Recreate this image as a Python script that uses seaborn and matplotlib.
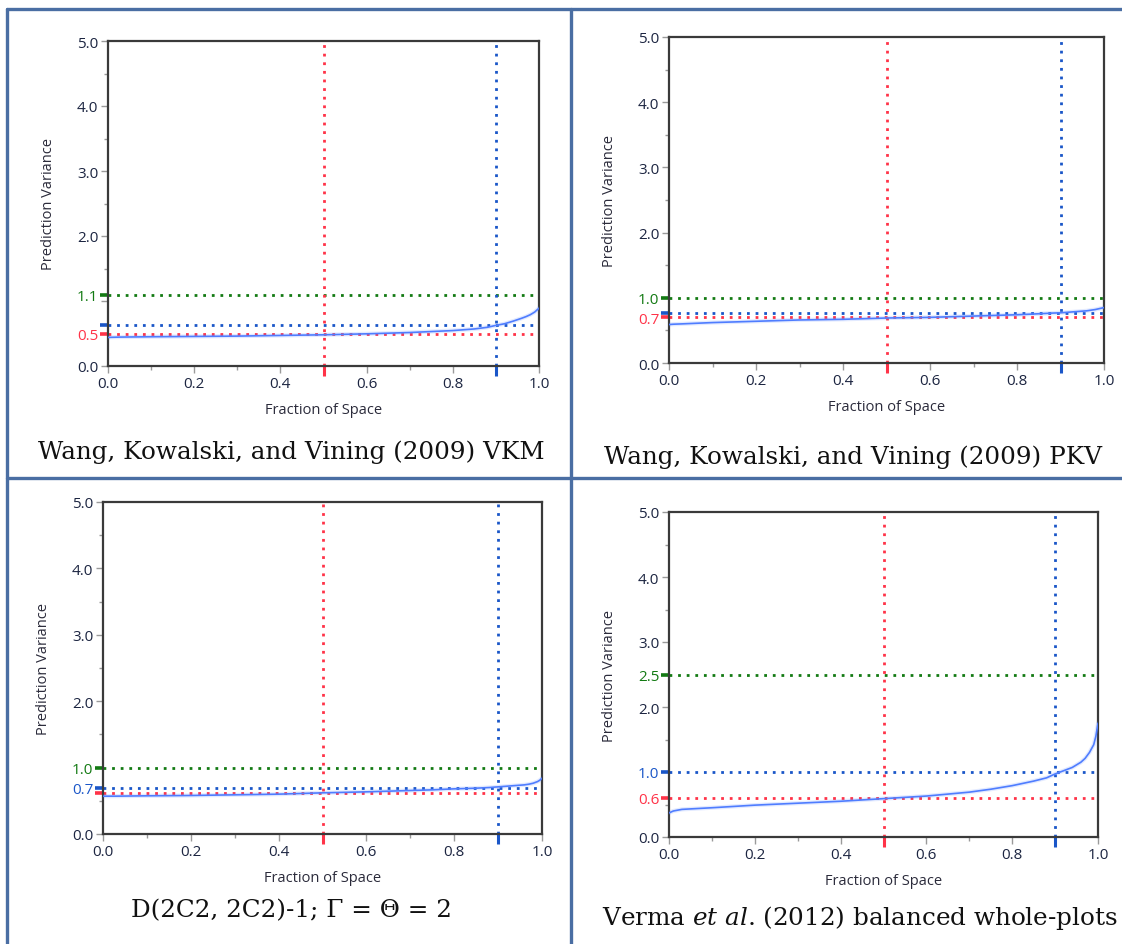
import matplotlib
matplotlib.use("Agg")
import matplotlib.pyplot as plt
from matplotlib.lines import Line2D
import pandas as pd
import seaborn as sns

sns.set_theme(style="white")
plt.rcParams["font.family"] = ["Open Sans", "DejaVu Sans"]
plt.rcParams["mathtext.fontset"] = "dejavuserif"

# Fraction of design space sampled for each FDS curve
fds_x = [0.0, 0.01, 0.03, 0.1, 0.2, 0.3, 0.4, 0.5, 0.6, 0.7, 0.75, 0.8,
         0.85, 0.88, 0.9, 0.92, 0.94, 0.96, 0.97, 0.98, 0.99, 0.995, 1.0]

# Scaled prediction variance along each FDS curve
vkm_pv = [0.44, 0.442, 0.445, 0.45, 0.455, 0.46, 0.47, 0.48, 0.495, 0.515,
          0.53, 0.545, 0.57, 0.595, 0.625, 0.65, 0.69, 0.735, 0.76, 0.79,
          0.83, 0.86, 0.89]
pkv_pv = [0.59, 0.595, 0.60, 0.62, 0.64, 0.66, 0.67, 0.69, 0.70, 0.72,
          0.73, 0.74, 0.755, 0.765, 0.77, 0.78, 0.79, 0.80, 0.81, 0.82,
          0.835, 0.842, 0.85]
d2c2_pv = [0.57, 0.57, 0.57, 0.575, 0.58, 0.59, 0.60, 0.62, 0.635, 0.655,
           0.665, 0.68, 0.69, 0.70, 0.71, 0.72, 0.73, 0.74, 0.75, 0.765,
           0.79, 0.81, 0.84]
verma_pv = [0.37, 0.40, 0.425, 0.45, 0.49, 0.52, 0.55, 0.59, 0.63, 0.69,
            0.735, 0.79, 0.86, 0.91, 0.97, 1.02, 1.07, 1.15, 1.21, 1.30,
            1.42, 1.55, 1.75]

captions = [
    "Wang, Kowalski, and Vining (2009) VKM",
    "Wang, Kowalski, and Vining (2009) PKV",
    "D(2C2, 2C2)-1; \u0393 = \u0398 = 2",
    r"Verma $\mathit{et\ al}$. (2012) balanced whole-plots",
]

# Reference levels: median PV (red), 90th percentile PV (blue), bound (green)
median_pv = [0.5, 0.7, 0.62, 0.6]
p90_pv = [0.63, 0.77, 0.7, 1.0]
bound_pv = [1.1, 1.0, 1.0, 2.5]
# Which reference levels carry a tick label
median_lab = ["0.5", "0.7", "", "0.6"]
p90_lab = ["", "", "0.7", "1.0"]
bound_lab = ["1.1", "1.0", "1.0", "2.5"]

median_frac = 0.5
p90_frac = 0.9

x_major = [0.0, 0.2, 0.4, 0.6, 0.8, 1.0]
y_major = [0.0, 1.0, 2.0, 3.0, 4.0, 5.0]

RED = "#ff3348"
BLUE = "#1a56c8"
GREEN = "#137a13"
CURVE = "#4f7dff"
TICKTXT = "#1c2541"

W, H = 1122, 945
fig = plt.figure(figsize=(W / 100, H / 100), dpi=100)

# axes boxes in pixels: left, top, right, bottom
boxes = [(108, 42, 539, 367), (669, 38, 1104, 364),
         (103, 503, 542, 835), (669, 513, 1098, 838)]
caption_pos = [(291, 452), (853, 457), (291, 911), (860, 918)]
curves = [vkm_pv, pkv_pv, d2c2_pv, verma_pv]

for i in range(4):
    l, t, r, b = boxes[i]
    ax = fig.add_axes([l / W, 1 - b / H, (r - l) / W, (b - t) / H])
    df = pd.DataFrame({"frac": fds_x, "pv": curves[i]})

    for lvl, col in [(median_pv[i], RED), (p90_pv[i], BLUE), (bound_pv[i], GREEN)]:
        ax.axhline(lvl, color=col, lw=2.0, ls=(0, (1, 2.1)), zorder=2)
    ax.axvline(median_frac, color=RED, lw=2.0, ls=(0, (1, 2.1)), zorder=2)
    ax.axvline(p90_frac, color=BLUE, lw=2.0, ls=(0, (1, 2.1)), zorder=2)

    # soft halo under the curve, then the curve itself
    sns.lineplot(data=df, x="frac", y="pv", ax=ax, color=CURVE, lw=3.0,
                 alpha=0.16, zorder=3)
    sns.lineplot(data=df, x="frac", y="pv", ax=ax, color=CURVE, lw=1.2,
                 zorder=4)

    ax.set_xlim(0, 1)
    ax.set_ylim(0, 5)

    # y ticks: regular grid plus coloured reference ticks
    refs = [(median_pv[i], median_lab[i], RED),
            (p90_pv[i], p90_lab[i], BLUE),
            (bound_pv[i], bound_lab[i], GREEN)]
    yt, yl, yc = [], [], []
    ref_vals = [v for v, _, _ in refs]
    for v in y_major:
        if v in ref_vals:
            continue
        yt.append(v)
        near = any(abs(v - rv) < 0.25 and lab for rv, lab, _ in refs)
        yl.append("" if near else f"{v:.1f}")
        yc.append(None)
    for v, lab, col in refs:
        yt.append(v)
        yl.append(lab)
        yc.append(col)
    ax.set_yticks(yt)
    ax.set_yticklabels(yl)
    ax.set_yticks([0.5, 1.5, 2.5, 3.5, 4.5], minor=True)

    xt = x_major + [median_frac, p90_frac]
    xl = [f"{v:.1f}" for v in x_major] + ["", ""]
    ax.set_xticks(xt)
    ax.set_xticklabels(xl)
    ax.set_xticks([0.1, 0.3, 0.5, 0.7, 0.9], minor=True)

    ax.tick_params(axis="both", which="major", direction="out", length=5,
                   width=1, color="#9a9a9a", labelsize=11,
                   labelcolor=TICKTXT, pad=2, left=True, bottom=True)
    ax.tick_params(axis="both", which="minor", direction="out", length=3,
                   width=1, color="#9a9a9a", left=True, bottom=True)

    for tick, col in zip(ax.yaxis.get_major_ticks(), yc):
        if col is not None:
            tick.tick1line.set_markeredgecolor(col)
            tick.tick1line.set_markeredgewidth(2.6)
            tick.tick1line.set_markersize(6)
            tick.label1.set_color(col)
    xticks = ax.xaxis.get_major_ticks()
    for tick, col in [(xticks[-2], RED), (xticks[-1], BLUE)]:
        tick.tick1line.set_markeredgecolor(col)
        tick.tick1line.set_markeredgewidth(2.2)
        tick.tick1line.set_markersize(7)

    for s in ax.spines.values():
        s.set_visible(True)
        s.set_color("#3a3a3a")
        s.set_linewidth(1.6)

    ax.set_xlabel("Fraction of Space", fontsize=10.5, color="#2b2b3b", labelpad=8)
    ax.set_ylabel("Prediction Variance", fontsize=10.5, color="#2b2b3b", labelpad=15)

    cx, cy = caption_pos[i]
    fig.text(cx / W, 1 - cy / H, captions[i], ha="center", va="center",
             fontsize=17.7, family="DejaVu Serif", color="#111111")

# table grid lines
BORDER = "#4a6ea3"
for (x0, y0, x1, y1) in [(7, 10, W, 10), (7, 10, 7, H), (571, 10, 571, H),
                         (7, 479, W, 479)]:
    fig.add_artist(Line2D([x0 / W, x1 / W], [1 - y0 / H, 1 - y1 / H],
                          color=BORDER, lw=2.4, transform=fig.transFigure))

fig.savefig("out.png", dpi=100, facecolor="white")
